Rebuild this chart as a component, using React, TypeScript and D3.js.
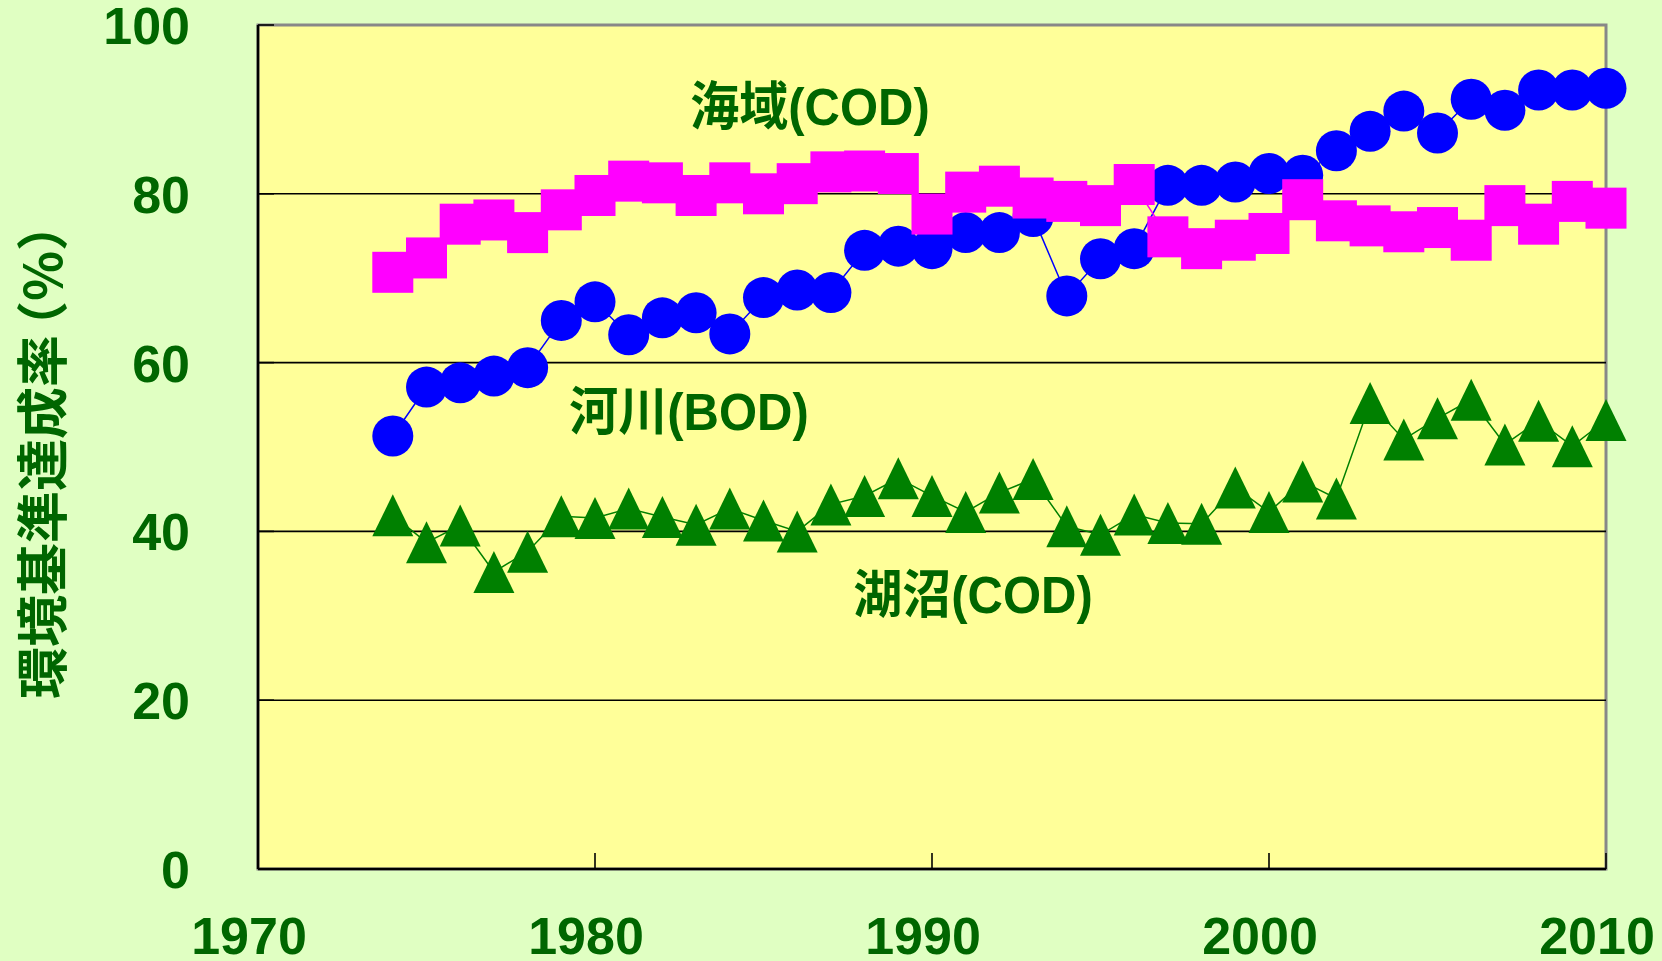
import React from 'react';
import * as d3 from 'd3';

const years = d3.range(1974, 2011);

// 河川(BOD)
const riverBOD = [
  51.3, 57.1, 57.6, 58.4, 59.4, 65.0, 67.2, 63.3, 65.3, 65.9,
  63.4, 67.7, 68.6, 68.3, 73.3, 73.8, 73.5, 75.4, 75.4, 77.3,
  67.9, 72.3, 73.5, 81.0, 81.0, 81.4, 82.4, 82.2, 85.1, 87.4,
  89.8, 87.2, 91.2, 89.9, 92.3, 92.3, 92.5,
];

// 海域(COD)
const seaCOD = [
  70.7, 72.4, 76.4, 76.9, 75.4, 78.1, 79.8, 81.5, 81.3, 79.8,
  81.3, 80.0, 81.2, 82.6, 82.7, 82.4, 77.6, 80.2, 80.9, 79.5,
  79.1, 78.6, 81.1, 74.9, 73.5, 74.5, 75.3, 79.3, 76.8, 76.2,
  75.5, 76.0, 74.5, 78.6, 76.4, 79.1, 78.3,
];

// 湖沼(COD)
const lakeCOD = [
  41.9, 38.7, 40.7, 35.2, 37.6, 41.8, 41.6, 42.7, 41.7, 40.8,
  42.7, 41.3, 40.0, 43.2, 44.2, 46.3, 44.2, 42.3, 44.6, 46.2,
  40.6, 39.6, 42.0, 41.0, 40.9, 45.2, 42.3, 45.9, 43.9, 55.2,
  50.9, 53.4, 55.6, 50.3, 53.1, 50.1, 53.2,
];

const yTicks = [0, 20, 40, 60, 80, 100];
const xTicks = [1970, 1980, 1990, 2000, 2010];

const W = 1662;
const H = 961;
const textColor = '#006600';
const latin = '"Liberation Sans", Arial, "Noto Sans CJK JP", sans-serif';
const cjk = '"Noto Sans CJK JP", "Liberation Sans", sans-serif';

// series labels: [text, centre x, baseline y]
const seriesLabels: [string, number, number][] = [
  ['海域(COD)', 810, 125],
  ['河川(BOD)', 689, 430],
  ['湖沼(COD)', 973, 613],
];

const App = () => {
  const x = d3.scaleLinear().domain([1970, 2010]).range([258, 1606]);
  const y = d3.scaleLinear().domain([0, 100]).range([869, 25]);
  const [x0, x1] = x.range();
  const [y0, y1] = y.range();

  const line = d3
    .line<number>()
    .x((_, i) => x(years[i]))
    .y((d) => y(d));

  const ms = 41; // marker size

  return (
    <svg
      width={W}
      height={H}
      style={{ position: 'absolute', left: 0, top: 0, background: '#e0ffc2' }}
    >
      <rect x={0} y={0} width={W} height={H} fill="#e0ffc2" />
      {/* plot area */}
      <rect x={x0} y={y1} width={x1 - x0} height={y0 - y1} fill="#ffff99" stroke="#888888" strokeWidth={3} />

      {/* gridlines */}
      {yTicks.slice(1, -1).map((t) => (
        <line key={t} x1={x0} x2={x1} y1={y(t)} y2={y(t)} stroke="#000" strokeWidth={1.6} />
      ))}
      {/* ticks */}
      {yTicks.map((t) => (
        <line key={'yt' + t} x1={x0} x2={x0 + 16} y1={y(t)} y2={y(t)} stroke="#000" strokeWidth={1.6} />
      ))}
      {xTicks.map((t) => (
        <line key={'xt' + t} x1={x(t)} x2={x(t)} y1={y0} y2={y0 - 16} stroke="#000" strokeWidth={1.6} />
      ))}
      {/* axis lines */}
      <line x1={x0} x2={x0} y1={y1} y2={y0} stroke="#000" strokeWidth={2.5} />
      <line x1={x0} x2={x1} y1={y0} y2={y0} stroke="#000" strokeWidth={2.5} />

      {/* y tick labels */}
      {yTicks.map((t) => (
        <text
          key={'yl' + t}
          x={190}
          y={y(t) + 19}
          textAnchor="end"
          fontFamily={latin}
          fontWeight="bold"
          fontSize={52}
          fill={textColor}
        >
          {t}
        </text>
      ))}
      {/* x tick labels */}
      {xTicks.map((t) => (
        <text
          key={'xl' + t}
          x={x(t) - 9}
          y={954}
          textAnchor="middle"
          fontFamily={latin}
          fontWeight="bold"
          fontSize={52}
          fill={textColor}
        >
          {t}
        </text>
      ))}

      {/* y axis title */}
      <text
        transform="translate(62,449) rotate(-90)"
        textAnchor="middle"
        fontFamily={cjk}
        fontWeight="bold"
        fontSize={52}
        fill={textColor}
      >
        <tspan>環境基準達成率</tspan>
        <tspan dx={-18}>（%）</tspan>
      </text>

      {/* 河川(BOD) */}
      <path d={line(riverBOD) || ''} fill="none" stroke="#0000ff" strokeWidth={1.5} />
      {riverBOD.map((v, i) => (
        <circle key={'r' + i} cx={x(years[i])} cy={y(v)} r={ms / 2} fill="#0000ff" />
      ))}

      {/* 海域(COD) */}
      <path d={line(seaCOD) || ''} fill="none" stroke="#ff00ff" strokeWidth={1.5} />
      {seaCOD.map((v, i) => (
        <rect key={'s' + i} x={x(years[i]) - ms / 2} y={y(v) - ms / 2} width={ms} height={ms} fill="#ff00ff" />
      ))}

      {/* 湖沼(COD) */}
      <path d={line(lakeCOD) || ''} fill="none" stroke="#008000" strokeWidth={1.5} />
      {lakeCOD.map((v, i) => (
        <path
          key={'l' + i}
          d={`M0,-21L20.5,21L-20.5,21Z`}
          transform={`translate(${x(years[i])},${y(v)})`}
          fill="#008000"
        />
      ))}

      {/* series labels */}
      {seriesLabels.map(([label, cx, by]) => (
        <text
          key={label}
          transform={`translate(${cx},${by}) scale(1,1.06)`}
          textAnchor="middle"
          fontFamily={latin}
          fontWeight="bold"
          fontSize={49}
          fill={textColor}
        >
          {label}
        </text>
      ))}
    </svg>
  );
};

export default App;
